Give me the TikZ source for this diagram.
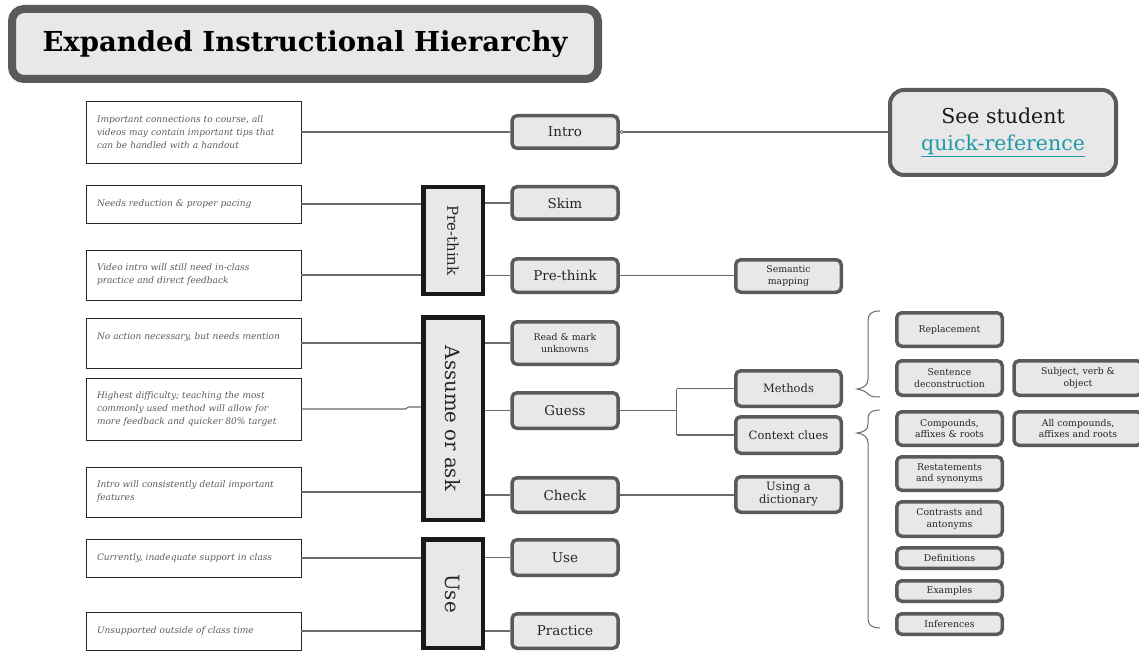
\documentclass[tikz,border=0pt]{standalone}
\usepackage{fontspec}
\setmainfont{DejaVu Serif}
\usetikzlibrary{calc}
\definecolor{boxfill}{HTML}{E8E8E8}
\definecolor{boxedge}{HTML}{5A5A5A}
\definecolor{wirecol}{HTML}{6A6A6A}
\definecolor{notetext}{HTML}{5C5C5C}
\definecolor{linkteal}{HTML}{1F9AAB}

\begin{document}
\begin{tikzpicture}[x=1pt,y=-1pt,
  rbox/.style={draw=boxedge, line width=3.5pt, fill=boxfill, rounded corners=5pt,
    align=center, inner sep=1pt, text=black!85, minimum width=106pt},
  big/.style={rbox, font=\fontsize{13.5}{15}\selectfont},
  mid/.style={rbox, font=\fontsize{11.5}{13}\selectfont},
  small/.style={rbox, font=\fontsize{9.3}{11.5}\selectfont},
  grp/.style={draw=black!90, line width=4.5pt, fill=boxfill, minimum width=59.5pt, inner sep=0pt},
  grplabel/.style={rotate=-90, text=black!85},
  note/.style={draw=black!85, line width=0.8pt, fill=white, minimum width=215pt,
    text width=193pt, align=left, inner xsep=11pt,
    font=\fontsize{9}{13}\selectfont\itshape, text=notetext},
  wire/.style={draw=wirecol, line width=1.1pt},
  bracecol/.style={draw=wirecol, line width=1pt},
]
\useasboundingbox (0,0) rectangle (1139,652);

% title
\node[draw=boxedge, line width=8pt, fill=boxfill, rounded corners=12pt,
  minimum width=586pt, minimum height=70pt, font=\fontsize{27.5}{30}\selectfont\bfseries]
  (title) at (305,44) {Expanded Instructional Hierarchy};

% notes on the left
\node[note, minimum height=62pt] (n1) at (193.5,132) {Important connections to course, all\\videos may contain important tips that\\can be handled with a handout};
\node[note, minimum height=38pt] (n2) at (193.5,204) {Needs reduction \& proper pacing};
\node[note, minimum height=50pt] (n3) at (193.5,275) {Video intro will still need in-class\\practice and direct feedback};
\node[note, minimum height=50pt] (n4) at (193.5,343) {No action necessary, but needs mention\\~};
\node[note, minimum height=62pt] (n5) at (193.5,409) {Highest difficulty; teaching the most\\commonly used method will allow for\\more feedback and quicker 80\% target};
\node[note, minimum height=50pt] (n6) at (193.5,492) {Intro will consistently detail important\\features};
\node[note, minimum height=38pt] (n7) at (193.5,558) {Currently, inadequate support in class};
\node[note, minimum height=38pt] (n8) at (193.5,631) {Unsupported outside of class time};

% phase groups
\node[grp, minimum height=106.5pt] (gpre) at (453,240.5) {};
\node[grplabel, font=\fontsize{15}{16}\selectfont] at (gpre) {Pre-think};
\node[grp, minimum height=202.5pt] (gask) at (453,418.5) {};
\node[grplabel, font=\fontsize{19.7}{22}\selectfont] at (gask) {Assume or ask};
\node[grp, minimum height=108.5pt] (guse) at (453,593.5) {};
\node[grplabel, font=\fontsize{19.7}{22}\selectfont] at (guse) {Use};

% steps
\node[big, minimum height=32.5pt] (intro) at (565,132) {Intro};
\node[big, minimum height=32.5pt] (skim) at (565,203) {Skim};
\node[big, minimum height=33.5pt] (prethink) at (565,275.5) {Pre-think};
\node[small, minimum height=42.5pt] (read) at (565,343) {Read \& mark\\unknowns};
\node[big, minimum height=35.5pt] (guess) at (565,410.5) {Guess};
\node[big, minimum height=34.5pt] (check) at (565,495) {Check};
\node[big, minimum height=35.5pt] (use) at (565,557.5) {Use};
\node[big, minimum height=34.5pt] (practice) at (565,631) {Practice};

% reference box
\node[draw=boxedge, line width=4pt, fill=boxfill, rounded corners=14pt,
  minimum width=226pt, minimum height=85pt, align=center,
  font=\fontsize{20.5}{27}\selectfont, text=black!90]
  (see) at (1003,132.5) {See student\\\textcolor{linkteal}{\underline{quick-reference}}};

% techniques
\node[small, minimum width=105.5pt, minimum height=32.5pt] (sem) at (788.5,276) {Semantic\\mapping};
\node[mid, minimum width=105.5pt, minimum height=35.5pt] (methods) at (788.5,388.5) {Methods};
\node[mid, minimum width=105.5pt, minimum height=36.5pt] (ctx) at (788.5,435) {Context clues};
\node[mid, minimum width=105.5pt, minimum height=35.5pt] (dict) at (788.5,494.5) {Using a\\dictionary};

% details
\node[small, minimum width=105.5pt, minimum height=33.5pt] (repl) at (949.5,329.5) {Replacement};
\node[small, minimum width=105.5pt, minimum height=34.5pt] (sent) at (949.5,378) {Sentence\\deconstruction};
\node[small, minimum width=105.5pt, minimum height=33.5pt] (comp) at (949.5,428.5) {Compounds,\\affixes \& roots};
\node[small, minimum width=105.5pt, minimum height=33.5pt] (rest) at (949.5,473.5) {Restatements\\and synonyms};
\node[small, minimum width=105.5pt, minimum height=34.5pt] (contr) at (949.5,519) {Contrasts and\\antonyms};
\node[small, minimum width=105.5pt, minimum height=20.5pt] (defs) at (949.5,558) {Definitions};
\node[small, minimum width=105.5pt, minimum height=20.5pt] (exs) at (949.5,591) {Examples};
\node[small, minimum width=105.5pt, minimum height=20.5pt] (infs) at (949.5,624) {Inferences};
\node[small, minimum width=128pt, minimum height=34.5pt] (svo) at (1078,378) {Subject, verb \&\\object};
\node[small, minimum width=128pt, minimum height=33.5pt] (allc) at (1078,428.5) {All compounds,\\affixes and roots};

% connectors: notes to groups
\draw[wire] (n1.east) -- (intro.west);
\draw[wire] (n2.east) -- (n2.east -| gpre.west);
\draw[wire] (n3.east) -- (n3.east -| gpre.west);
\draw[wire] (n4.east) -- (n4.east -| gask.west);
\draw[wire] (n5.east) -- ($(n5.east)+(104,0)$) -- ($(n5.east)+(107,-2)$) -- ($(n5.east -| gask.west)+(0,-2)$);
\draw[wire] (n6.east) -- (n6.east -| gask.west);
\draw[wire] (n7.east) -- (n7.east -| guse.west);
\draw[wire] (n8.east) -- (n8.east -| guse.west);

% connectors: groups to steps
\draw[wire] (skim.west -| gpre.east) -- (skim.west);
\draw[wire] (prethink.west -| gpre.east) -- (prethink.west);
\draw[wire] (read.west -| gask.east) -- (read.west);
\draw[wire] (guess.west -| gask.east) -- (guess.west);
\draw[wire] (check.west -| gask.east) -- (check.west);
\draw[wire] (use.west -| guse.east) -- (use.west);
\draw[wire] (practice.west -| guse.east) -- (practice.west);

% connectors: steps to techniques
\draw[wire] (intro.east) -- (intro.east -| see.west);
\draw[draw=wirecol, line width=0.6pt, fill=white] ($(intro.east)+(2,0)$) circle (1.6pt);
\draw[wire] (prethink.east) -- (prethink.east -| sem.west);
\draw[wire] (check.east) -- (check.east -| dict.west);
\coordinate (fork) at ($(guess.east)+(57,0)$);
\draw[wire] (guess.east) -- (fork);
\draw[wire] (fork |- methods.west) -- (fork |- ctx.west);
\draw[wire] (fork |- methods.west) -- (methods.west);
\draw[wire] (fork |- ctx.west) -- (ctx.west);

% braces
\draw[bracecol] (880,311) .. controls (871,311) and (868,314) .. (868,321)
  -- (868,379) .. controls (868,385) and (864,388) .. (857,389)
  .. controls (863,390) and (866,392) .. (868,394)
  .. controls (871,397) and (875,397) .. (880,397);
\draw[bracecol] (880,410) .. controls (871,410) and (868,413) .. (868,419)
  -- (868,424) .. controls (868,430) and (864,432) .. (857,433)
  .. controls (864,434) and (868,437) .. (868,443)
  -- (868,619) .. controls (868,625) and (872,628) .. (880,628);
\end{tikzpicture}
\end{document}
